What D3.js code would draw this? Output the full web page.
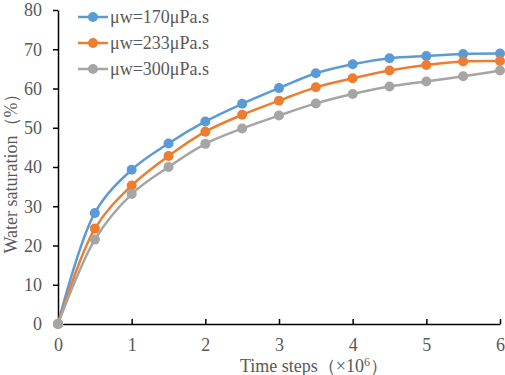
<!DOCTYPE html>
<html>
<head>
<meta charset="utf-8">
<script src="https://cdn.jsdelivr.net/npm/d3@7"></script>
<style>
  body { margin: 0; background: #fff; }
  svg text { font-family: "Liberation Serif", "Times New Roman", "DejaVu Serif", serif; }
</style>
</head>
<body>
<div id="chart-area"></div>
<script>
const steps = [0, 0.5, 1, 1.5, 2, 2.5, 3, 3.5, 4, 4.5, 5, 5.5, 6];
const mu170 = [0, 28.3, 39.3, 46.0, 51.6, 56.1, 60.1, 63.9, 66.2, 67.7, 68.3, 68.8, 68.9];
const mu233 = [0, 24.3, 35.3, 42.8, 49.0, 53.3, 56.9, 60.3, 62.6, 64.6, 66.0, 66.9, 67.0];
const mu300 = [0, 21.5, 33.1, 40.0, 45.9, 49.8, 53.1, 56.2, 58.6, 60.5, 61.8, 63.1, 64.6];
const seriesNames = ["μw=170μPa.s", "μw=233μPa.s", "μw=300μPa.s"];
const colors = ["#5B9BD5", "#ED7D31", "#A5A5A5"];
const xTicks = [0, 1, 2, 3, 4, 5, 6];
const yTicks = [0, 10, 20, 30, 40, 50, 60, 70, 80];

const W = 505, H = 375;
const MARGIN = { LEFT: 58, RIGHT: 5, TOP: 10, BOTTOM: 51 };
const FONT = "Liberation Serif, Times New Roman, serif";

const svg = d3.select("#chart-area").append("svg")
      .attr("width", W)
      .attr("height", H)
      .style("font-family", FONT);

const x = d3.scaleLinear().domain([0, 6]).range([MARGIN.LEFT, W - MARGIN.RIGHT]);
const y = d3.scaleLinear().domain([0, 80]).range([H - MARGIN.BOTTOM, MARGIN.TOP]);

// Y axis
const yAxis = svg.append("g")
      .attr("transform", `translate(${MARGIN.LEFT},0)`)
      .call(d3.axisLeft(y).tickValues(yTicks).tickFormat(d3.format("d"))
            .tickSize(5).tickPadding(11).tickSizeOuter(0));
yAxis.attr("font-family", FONT);
yAxis.select(".domain").attr("stroke", "#000").attr("stroke-width", 1.5);
yAxis.selectAll(".tick line").attr("stroke", "#000").attr("stroke-width", 1.5);
yAxis.selectAll(".tick text").attr("font-size", "18px").attr("fill", "#595959");

// X axis, ticks pointing up
const xAxis = svg.append("g")
      .attr("transform", `translate(0,${y(0)})`)
      .call(d3.axisBottom(x).tickValues(xTicks).tickFormat(d3.format("d"))
            .tickSize(-5).tickPadding(9).tickSizeOuter(0));
xAxis.attr("font-family", FONT);
xAxis.select(".domain").attr("stroke", "#000").attr("stroke-width", 1.5);
xAxis.selectAll(".tick line").attr("stroke", "#000").attr("stroke-width", 1.5);
xAxis.selectAll(".tick text").attr("font-size", "18px").attr("fill", "#595959")
      .attr("dy", "0.71em").attr("y", 14);

// Axis titles
svg.append("text")
      .attr("transform", `translate(17,${169}) rotate(-90)`)
      .attr("text-anchor", "middle")
      .attr("font-size", "18px")
      .attr("fill", "#595959")
      .text("Water saturation（%）");

const xt = svg.append("text")
      .attr("x", 314)
      .attr("y", 372)
      .attr("text-anchor", "middle")
      .attr("font-size", "18px")
      .attr("fill", "#595959");
xt.append("tspan").text("Time steps（×10");
xt.append("tspan").attr("font-size", "12px").attr("dy", -6).text("6");
xt.append("tspan").attr("dy", 6).text("）");

// Series
const allSeries = [mu170, mu233, mu300];
const line = d3.line()
      .x((d, i) => x(steps[i]))
      .y(d => y(d))
      .curve(d3.curveCatmullRom.alpha(0.5));

allSeries.forEach((vals, k) => {
      svg.append("path")
            .datum(vals)
            .attr("fill", "none")
            .attr("stroke", colors[k])
            .attr("stroke-width", 2.5)
            .attr("d", line);
});
allSeries.forEach((vals, k) => {
      svg.append("g").selectAll("circle")
            .data(vals)
            .enter().append("circle")
            .attr("cx", (d, i) => x(steps[i]))
            .attr("cy", d => y(d))
            .attr("r", 5)
            .attr("fill", colors[k]);
});

// Legend
const legend = svg.append("g").attr("transform", "translate(78,17)");
seriesNames.forEach((name, k) => {
      const row = legend.append("g").attr("transform", `translate(0,${k * 26})`);
      row.append("line").attr("x1", 0).attr("x2", 30).attr("y1", 0).attr("y2", 0)
            .attr("stroke", colors[k]).attr("stroke-width", 2.5);
      row.append("circle").attr("cx", 15).attr("cy", 0).attr("r", 5).attr("fill", colors[k]);
      row.append("text").attr("x", 32).attr("y", 0).attr("dy", "0.35em")
            .attr("font-size", "18px").attr("fill", "#595959").text(name);
});
</script>
</body>
</html>
